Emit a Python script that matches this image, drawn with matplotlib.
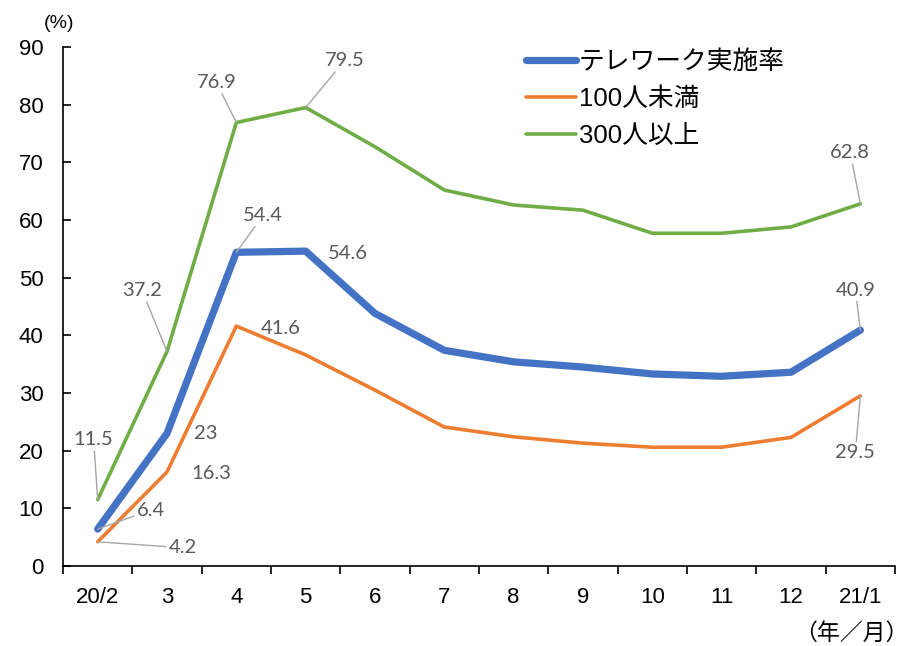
import matplotlib.pyplot as plt
import numpy as np

plt.rcParams['font.family'] = ['Liberation Sans', 'Noto Sans CJK JP']

# months on the x axis
months = ['20/2', '3', '4', '5', '6', '7', '8', '9', '10', '11', '12', '21/1']

# telework rate (%), overall and by company size
rate_all = [6.4, 23.0, 54.4, 54.6, 43.8, 37.4, 35.4, 34.5, 33.3, 32.9, 33.6, 40.9]
rate_small = [4.2, 16.3, 41.6, 36.6, 30.5, 24.1, 22.4, 21.3, 20.6, 20.6, 22.3, 29.5]
rate_large = [11.5, 37.2, 76.9, 79.5, 72.7, 65.2, 62.6, 61.7, 57.7, 57.7, 58.8, 62.8]

names = ['テレワーク実施率', '100人未満', '300人以上']

# which points get a value label, with text offset in pixels and whether a leader line is drawn
label_spots = {
    'all': [(0, 53, 19, True), (1, 39, 0, False), (2, 27, 37, True),
            (3, 42, -2, False), (11, -5, 40, True)],
    'small': [(0, 85, -6, True), (1, 44, -1, False), (2, 44, -2, False),
              (11, -5, -57, True)],
    'large': [(0, -4, 60, True), (1, -25, 61, True), (2, -20, 40, True),
              (3, 39, 47, True), (11, -10, 51, True)],
}

fig = plt.figure(figsize=(9.1, 6.46), dpi=100)
ax = fig.add_axes([63 / 910, 1 - 566 / 646, 832 / 910, 519 / 646])

x = np.arange(len(months))
series = [
    ('large', rate_large, '#70AD47', 2.6, names[2]),
    ('small', rate_small, '#ED7D31', 2.6, names[1]),
    ('all', rate_all, '#4472C4', 5.2, names[0]),
]
handles = {}
for key, vals, col, lw, name in series:
    ln, = ax.plot(x, vals, color=col, lw=lw, solid_capstyle='round',
                  solid_joinstyle='round', label=name)
    handles[name] = ln
    for i, dx, dy, lead in label_spots[key]:
        arrow = dict(arrowstyle='-', color='#a6a6a6', lw=1.0,
                     shrinkA=0, shrinkB=0) if lead else None
        ax.annotate(f'{vals[i]:g}', xy=(x[i], vals[i]),
                    xytext=(dx * 0.72, dy * 0.72), textcoords='offset points',
                    ha='center', va='center', fontsize=14.5, color='#595959',
                    family=['Lato', 'DejaVu Sans'], arrowprops=arrow)

ax.set_xlim(-0.5, len(months) - 0.5)
ax.set_ylim(0, 90)
ax.set_yticks(np.arange(0, 91, 10))
ax.set_xticks(x)
ax.set_xticklabels(months)
ax.set_xticks(np.arange(-0.5, len(months), 1), minor=True)

ax.tick_params(axis='x', which='major', length=0, pad=15, labelsize=16)
ax.tick_params(axis='x', which='minor', length=6, width=1.2, direction='out')
ax.tick_params(axis='y', length=6, width=1.2, direction='in', pad=14,
               labelsize=16)
for s in ['top', 'right']:
    ax.spines[s].set_visible(False)
for s in ['left', 'bottom']:
    ax.spines[s].set_linewidth(1.2)

fig.text(59 / 910, 1 - 23 / 646, '(%)', ha='center', va='center', fontsize=14)
fig.text(908 / 910, 1 - 633 / 646, '（年／月）', ha='right', va='center', fontsize=16.5)

ax.legend([handles[n] for n in names], names, loc='upper left',
          bbox_to_anchor=(516 / 910, 1 - 40 / 646), bbox_transform=fig.transFigure,
          frameon=False, fontsize=18.5, handlelength=1.95, handletextpad=0.1,
          labelspacing=0.5, borderaxespad=0)

fig.savefig('out.png', dpi=100)
